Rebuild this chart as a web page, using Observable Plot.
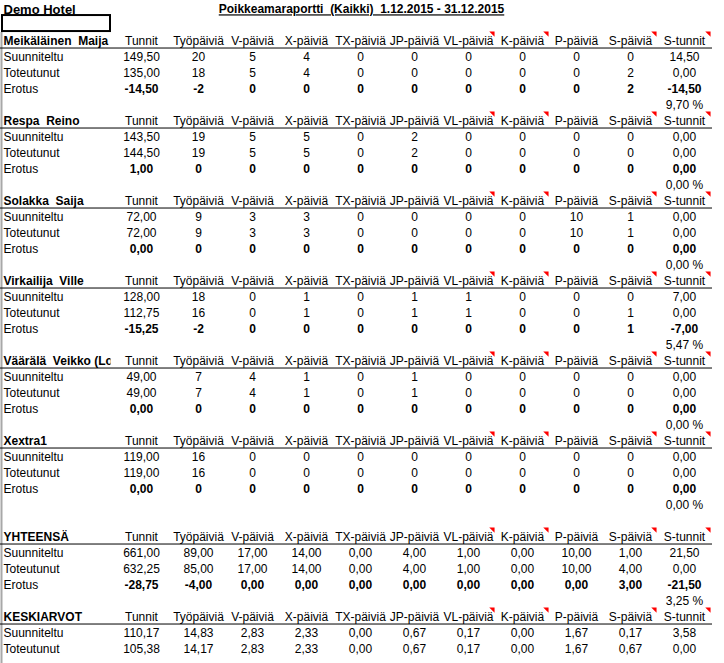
<!DOCTYPE html>
<html><head><meta charset="utf-8">
<script src="https://cdn.jsdelivr.net/npm/d3@7"></script>
<script src="https://cdn.jsdelivr.net/npm/@observablehq/plot@0.6"></script>
<style>body{margin:0;background:#fff;} #chart svg{display:block;}</style>
</head><body><div id="chart"></div>
<script>
// ---- data ----
const hotel = "Demo Hotel";
const reportTitle = "Poikkeamaraportti  (Kaikki)  1.12.2015 - 31.12.2015";
const columns = ["Tunnit","Työpäiviä","V-päiviä","X-päiviä","TX-päiviä","JP-päiviä","VL-päiviä","K-päiviä","P-päiviä","S-päiviä","S-tunnit"];
const commented = ["VL-päiviä","K-päiviä","S-päiviä","S-tunnit"];
const rowLabels = ["Suunniteltu","Toteutunut","Erotus"];
const names = ["Meikäläinen  Maija","Respa  Reino","Solakka  Saija","Virkailija  Ville","Väärälä  Veikko (Lo","Xextra1"];
const planned = [
  [149.5,20,5,4,0,0,0,0,0,0,14.5],
  [143.5,19,5,5,0,2,0,0,0,0,0],
  [72,9,3,3,0,0,0,0,10,1,0],
  [128,18,0,1,0,1,1,0,0,0,7],
  [49,7,4,1,0,1,0,0,0,0,0],
  [119,16,0,0,0,0,0,0,0,0,0]
];
const actual = [
  [135,18,5,4,0,0,0,0,0,2,0],
  [144.5,19,5,5,0,2,0,0,0,0,0],
  [72,9,3,3,0,0,0,0,10,1,0],
  [112.75,16,0,1,0,1,1,0,0,1,0],
  [49,7,4,1,0,1,0,0,0,0,0],
  [119,16,0,0,0,0,0,0,0,0,0]
];
const difference = [
  [-14.5,-2,0,0,0,0,0,0,0,2,-14.5],
  [1,0,0,0,0,0,0,0,0,0,0],
  [0,0,0,0,0,0,0,0,0,0,0],
  [-15.25,-2,0,0,0,0,0,0,0,1,-7],
  [0,0,0,0,0,0,0,0,0,0,0],
  [0,0,0,0,0,0,0,0,0,0,0]
];
const percents = [9.70,0,0,5.47,0,0];
const totalLabel = "YHTEENSÄ";
const totalPlanned = [661,89,17,14,0,4,1,0,10,1,21.5];
const totalActual = [632.25,85,17,14,0,4,1,0,10,4,0];
const totalDiff = [-28.75,-4,0,0,0,0,0,0,0,3,-21.5];
const totalPercent = 3.25;
const avgLabel = "KESKIARVOT";
const avgPlanned = [110.17,14.83,2.83,2.33,0,0.67,0.17,0,1.67,0.17,3.58];
const avgActual = [105.38,14.17,2.83,2.33,0,0.67,0.17,0,1.67,0.67,0];

// ---- layout (sheet column widths) ----
const nameWidth = 111, tunnitWidth = 60, colWidth = 54;
const colLeft = [], colRight = [];
{ let x = nameWidth; columns.forEach((c, j) => { const w = j === 0 ? tunnitWidth : colWidth; colLeft.push(x); colRight.push(x + w); x += w; }); }
const colCenter = colLeft.map((l, j) => (l + colRight[j]) / 2);

function fmt(v, dec) {
  const s = dec ? Math.abs(v).toFixed(2).replace(".", ",") : String(Math.abs(v));
  return (v < 0 ? "-" : "") + s;
}

const cells = [];
const headerRows = [];
const triangles = [];
function block(start, title, rows, pct, allDec) {
  headerRows.push(start);
  cells.push({row: start, x: 3, text: title, anchor: "start", bold: true});
  columns.forEach((c, j) => {
    cells.push({row: start, x: colCenter[j], text: c, anchor: "middle", bold: false});
    if (commented.includes(c)) triangles.push({row: start, x: colRight[j]});
  });
  rows.forEach((vals, i) => {
    cells.push({row: start + 1 + i, x: 3, text: rowLabels[i], anchor: "start", bold: false});
    vals.forEach((v, j) => cells.push({row: start + 1 + i, x: colCenter[j], text: fmt(v, allDec || j === 0 || j === 10), anchor: "middle", bold: i === 2}));
  });
  if (pct != null) cells.push({row: start + 4, x: colCenter[10], text: fmt(pct, true) + " %", anchor: "middle", bold: false});
}
names.forEach((n, i) => block(2 + 5 * i, n, [planned[i], actual[i], difference[i]], percents[i], false));
block(33, totalLabel, [totalPlanned, totalActual, totalDiff], totalPercent, true);
block(38, avgLabel, [avgPlanned, avgActual], null, true);

const triSymbol = {draw(ctx, size) { const s = Math.sqrt(size) / 2; ctx.moveTo(-s, -s); ctx.lineTo(s, -s); ctx.lineTo(s, s); ctx.closePath(); }};
const font = "Arial, 'Liberation Sans', sans-serif";
const sel = (anchor, bold) => cells.filter(d => d.anchor === anchor && d.bold === bold);

const chart = Plot.plot({
  width: 724, height: 663, margin: 0,
  style: {fontFamily: font, fontSize: "12px", background: "white", color: "black"},
  x: {type: "linear", domain: [0, 724], range: [0, 724], axis: null},
  y: {type: "linear", domain: [-0.5, 40.5], range: [0, 656], axis: null},
  marks: [
    Plot.ruleX([1], {y1: 1.5, y2: 41, stroke: "#a8a8a8", strokeWidth: 2}),
    Plot.rect([0], {x1: 2, x2: 110, y1: 0.44, y2: 1.44, fill: "none", stroke: "black", strokeWidth: 2}),
    Plot.ruleY(headerRows, {y: d => d + 0.47, x1: 0, x2: 712, stroke: "black", strokeWidth: 1}),
    Plot.dot(triangles, {x: d => d.x - 3.6, y: "row", dy: -6.4, r: 3, symbol: triSymbol, fill: "red", stroke: "none"}),
    Plot.text([hotel], {x: 3, y: 0, text: d => d, textAnchor: "start", fontWeight: "bold", fontSize: 13, dy: 1}),
    Plot.text([reportTitle], {x: 361, y: 0, text: d => d, textAnchor: "middle", fontWeight: "bold", fontSize: 12, dy: 1}),
    Plot.text(sel("start", false), {x: "x", y: "row", text: "text", textAnchor: "start", dy: 1}),
    Plot.text(sel("start", true), {x: "x", y: "row", text: "text", textAnchor: "start", fontWeight: "bold", dy: 1}),
    Plot.text(sel("middle", false), {x: "x", y: "row", text: "text", textAnchor: "middle", dy: 1}),
    Plot.text(sel("middle", true), {x: "x", y: "row", text: "text", textAnchor: "middle", fontWeight: "bold", dy: 1})
  ]
});
document.getElementById("chart").appendChild(chart);

// underline title, clip long name to its cell
const svg = d3.select(chart);
svg.selectAll("text").filter(function() { return this.textContent === reportTitle; }).style("text-decoration", "underline");
const defs = svg.append("defs");
defs.append("clipPath").attr("id", "namecell").attr("clipPathUnits", "userSpaceOnUse")
  .append("rect").attr("x", 0).attr("y", 0).attr("width", 110).attr("height", 663);
svg.selectAll("text").filter(function() { return this.textContent === names[4]; }).each(function() {
  const parent = this.parentNode;
  const g = document.createElementNS("http://www.w3.org/2000/svg", "g");
  g.setAttribute("clip-path", "url(#namecell)");
  parent.insertBefore(g, this);
  g.appendChild(this);
});
</script></body></html>
